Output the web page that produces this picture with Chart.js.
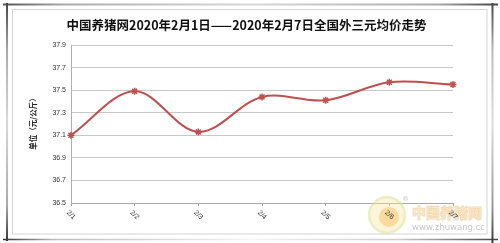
<!DOCTYPE html>
<html><head><meta charset="utf-8">
<script src="https://cdn.jsdelivr.net/npm/chart.js@4/dist/chart.umd.min.js"></script>
<style>html,body{margin:0;padding:0;background:#fff}#wrap{width:500px;height:243px}</style>
</head><body><div id="wrap"><canvas id="c" width="500" height="243"></canvas></div>
<script>
const titleText = '中国养猪网2020年2月1日——2020年2月7日全国外三元均价走势';
const yAxisTitle = '单位（元/公斤）';
const categories = ['2/1', '2/2', '2/3', '2/4', '2/5', '2/6', '2/7'];
const prices = [37.10, 37.49, 37.13, 37.44, 37.41, 37.57, 37.55];
const yTicks = [36.5, 36.7, 36.9, 37.1, 37.3, 37.5, 37.7, 37.9];

function gradLine(ctx, x1, y1, x2, y2, stops, w) {
  const g = ctx.createLinearGradient(x1, y1, x2, y2);
  stops.forEach(s => g.addColorStop(s[0], s[1]));
  ctx.strokeStyle = g; ctx.lineWidth = w;
  ctx.beginPath(); ctx.moveTo(x1, y1); ctx.lineTo(x2, y2); ctx.stroke();
}

const deco = {
  id: 'deco',
  beforeDraw(chart) {
    const ctx = chart.ctx;
    ctx.save();
    ctx.fillStyle = '#fff'; ctx.fillRect(0, 0, 500, 243);
    ctx.strokeStyle = '#d4d4d4'; ctx.lineWidth = 1;
    ctx.strokeRect(12.5, 9.5, 474.5, 224.5);
    gradLine(ctx, 3, 4.5, 498, 4.5, [[0,'#555'],[0.12,'#aaa'],[0.5,'#d8d8d8'],[0.88,'#aaa'],[1,'#444']], 2);
    gradLine(ctx, 7, 3, 7, 241, [[0,'#444'],[0.2,'#aaa'],[0.5,'#d8d8d8'],[0.85,'#aaa'],[1,'#333']], 2);
    gradLine(ctx, 3, 239.5, 498, 239.5, [[0,'#333'],[0.1,'#bbb'],[0.5,'#f4f4f4'],[0.8,'#ccc'],[1,'#444']], 1.5);
    gradLine(ctx, 492.5, 3, 492.5, 243, [[0,'#444'],[0.2,'#bbb'],[0.5,'#ddd'],[0.85,'#999'],[1,'#333']], 2);
    ctx.restore();
  },
  afterDraw(chart) {
    const ctx = chart.ctx;
    ctx.save();
    ctx.fillStyle = '#111';
    ctx.font = 'bold 12.5px "Noto Sans CJK SC"';
    ctx.textAlign = 'center'; ctx.textBaseline = 'middle';
    ctx.fillText(titleText, 246.5, 25.5);
    ctx.save();
    ctx.translate(33, 122); ctx.rotate(-Math.PI / 2);
    ctx.font = 'bold 7.5px "Noto Sans CJK SC"';
    ctx.fillStyle = '#222';
    ctx.fillText(yAxisTitle, 0, 0);
    ctx.restore();
    // watermark
    ctx.save();
    ctx.globalAlpha = 0.4;
    ctx.beginPath(); ctx.arc(387, 215, 18, 0, Math.PI * 2);
    ctx.fillStyle = '#fbe7a0'; ctx.fill();
    ctx.lineWidth = 2.5; ctx.strokeStyle = '#c9e08a'; ctx.stroke();
    ctx.beginPath(); ctx.arc(389, 217, 10, 0, Math.PI * 2);
    ctx.fillStyle = '#f3b54a'; ctx.fill();
    ctx.globalAlpha = 0.45;
    ctx.font = 'bold 14px "Noto Sans CJK SC"';
    ctx.textAlign = 'left';
    ctx.lineWidth = 1.2; ctx.strokeStyle = '#e0b070';
    ctx.strokeText('中国养猪网', 412, 213);
    ctx.fillStyle = '#fbe3a8';
    ctx.fillText('中国养猪网', 412, 213);
    ctx.globalAlpha = 0.55;
    ctx.font = '8.5px "DejaVu Sans"';
    ctx.fillStyle = '#999';
    ctx.fillText('www.zhuwang.cc', 412, 228);
    ctx.font = '7px "DejaVu Sans"';
    ctx.fillText('®', 402, 199);
    ctx.restore();
    const xs = chart.scales.x;
    ctx.font = '7px "Liberation Sans"';
    ctx.fillStyle = '#333';
    ctx.textAlign = 'center'; ctx.textBaseline = 'middle';
    categories.forEach((lab, i) => {
      const x = xs.getPixelForValue(i);
      ctx.save();
      ctx.translate(x, 215); ctx.rotate(Math.PI / 4);
      ctx.fillText(lab, 0, 0);
      ctx.restore();
    });
    ctx.restore();
  }
};

new Chart(document.getElementById('c'), {
  type: 'line',
  data: {
    labels: categories,
    datasets: [{
      data: prices,
      borderColor: '#c0504d',
      backgroundColor: '#c0504d',
      borderWidth: 2,
      tension: 0.35,
      pointStyle: 'star',
      pointRadius: 3.5,
      pointBorderWidth: 1.5,
      pointBorderColor: '#c0504d',
      fill: false
    }]
  },
  options: {
    responsive: false,
    animation: false,
    devicePixelRatio: 1,
    layout: { padding: { left: 41, right: 47, top: 45, bottom: 0 } },
    plugins: { legend: { display: false }, tooltip: { enabled: false }, title: { display: false } },
    scales: {
      x: {
        offset: false,
        afterFit: s => { s.height = 40; },
        ticks: { display: false },
        grid: { drawOnChartArea: false, drawTicks: true, tickLength: 3, color: '#a0a0a0' },
        border: { color: '#a8a8a8' }
      },
      y: {
        min: 36.5, max: 37.9,
        afterFit: s => { s.width = 30; },
        afterBuildTicks: s => { s.ticks = yTicks.map(v => ({ value: v })); },
        ticks: {
          padding: 5,
          color: '#333',
          font: { family: 'Liberation Sans', size: 7 },
          callback: v => Number(v).toFixed(1)
        },
        grid: { color: '#c8c8c8', drawTicks: false },
        border: { color: '#b0b0b0' }
      }
    }
  },
  plugins: [deco]
});
</script></body></html>
